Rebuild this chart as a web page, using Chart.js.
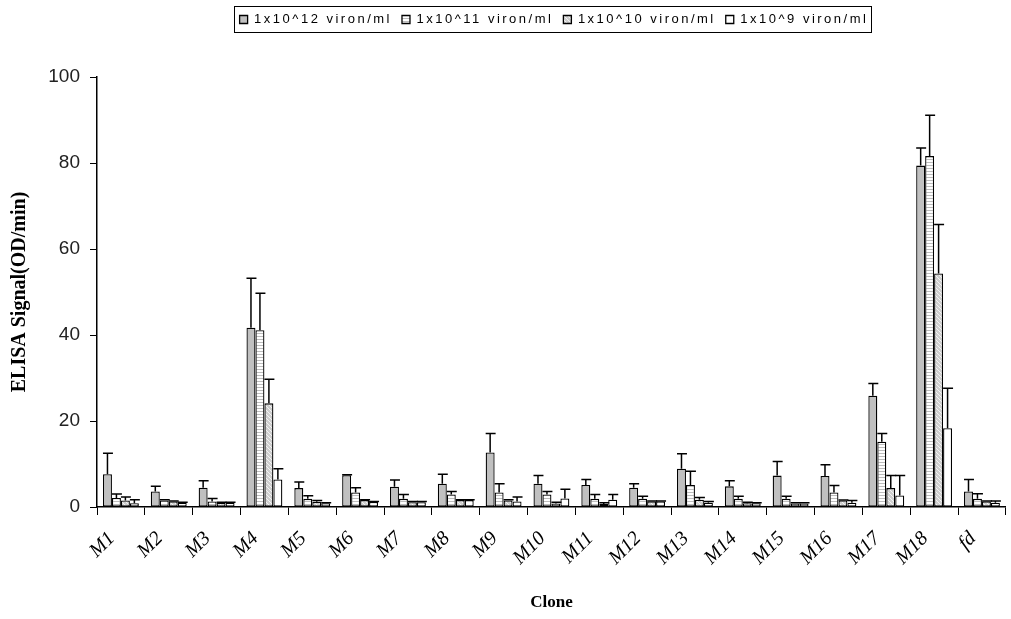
<!DOCTYPE html>
<html>
<head>
<meta charset="utf-8">
<script src="https://cdn.jsdelivr.net/npm/chart.js@4.4.1/dist/chart.umd.min.js"></script>
<style>
  html, body { margin: 0; padding: 0; background: #fff; }
  #wrap { width: 1011px; height: 619px; position: relative; }
</style>
</head>
<body>
<div id="wrap"><canvas id="c"></canvas></div>
<script>
const categories = ['M1','M2','M3','M4','M5','M6','M7','M8','M9','M10','M11','M12','M13','M14','M15','M16','M17','M18','fd'];
const seriesNames = ['1x10^12 viron/ml','1x10^11 viron/ml','1x10^10 viron/ml','1x10^9 viron/ml'];

const v12 = [7.6, 3.6, 4.5, 41.7, 4.4, 7.4, 4.7, 5.4, 12.7, 5.4, 5.1, 4.5, 8.9, 4.8, 7.3, 7.2, 25.9, 79.4, 3.6];
const e12 = [4.9, 1.2, 1.6, 11.5, 1.4, 0.1, 1.6, 2.2, 4.4, 1.9, 1.3, 0.9, 3.5, 1.3, 3.3, 2.6, 2.8, 4.1, 2.8];

const v11 = [2.1, 1.5, 1.3, 41.1, 1.9, 3.4, 1.9, 2.9, 3.4, 2.9, 1.9, 1.9, 5.1, 1.9, 1.9, 3.4, 15.2, 81.6, 1.9];
const e11 = [0.9, 0.2, 0.7, 8.6, 0.7, 1.1, 1.0, 0.7, 2.0, 0.7, 1.0, 0.6, 3.2, 0.6, 0.6, 1.6, 1.9, 9.5, 1.2];

const v10 = [1.5, 1.3, 1.0, 24.1, 1.2, 1.6, 1.1, 1.6, 1.5, 0.8, 0.7, 1.3, 1.7, 0.9, 0.8, 1.5, 4.4, 54.3, 1.3];
const e10 = [0.8, 0.1, 0.1, 5.6, 0.3, 0.1, 0.2, 0.1, 0.2, 0.3, 0.3, 0.1, 0.5, 0.2, 0.2, 0.1, 2.9, 11.4, 0.1];

const v9 = [0.9, 1.0, 1.0, 6.4, 0.9, 1.2, 1.1, 1.6, 1.3, 2.0, 1.7, 1.3, 1.0, 0.9, 0.8, 1.0, 2.7, 18.3, 1.0];
const e9 = [0.8, 0.1, 0.1, 2.5, 0.1, 0.1, 0.2, 0.1, 1.0, 2.1, 1.2, 0.1, 0.3, 0.1, 0.2, 0.5, 4.6, 9.3, 0.4];

const yTicks = [0, 20, 40, 60, 80, 100];

function makePattern(draw, w, h) {
  const c = document.createElement('canvas');
  c.width = w; c.height = h;
  const x = c.getContext('2d');
  draw(x, w, h);
  return x.createPattern(c, 'repeat');
}
const stripePattern = makePattern((x, w, h) => {
  x.fillStyle = '#ffffff'; x.fillRect(0, 0, w, h);
  x.fillStyle = '#bcbcbc'; x.fillRect(0, 0, w, 1);
}, 4, 3);
const hatchPattern = makePattern((x, w, h) => {
  x.fillStyle = '#cfcfcf'; x.fillRect(0, 0, w, h);
  x.strokeStyle = '#f4f4f4'; x.lineWidth = 1;
  x.beginPath();
  x.moveTo(0, 0); x.lineTo(w, h);
  x.moveTo(-w, 0); x.lineTo(w, 2 * h);
  x.moveTo(0, -h); x.lineTo(2 * w, h);
  x.stroke();
}, 4, 4);

const fills = ['#c0c0c0', stripePattern, hatchPattern, '#ffffff'];
const values = [v12, v11, v10, v9];
const errors = [e12, e11, e10, e9];

const LEGEND_SPACING = '2.5px';
const LEGEND_GAP = 41;
const LEGEND_SHIFT = 50;

const errorBars = {
  id: 'errorBars',
  afterDatasetsDraw(chart) {
    const ctx = chart.ctx;
    const y = chart.scales.y;
    ctx.save();
    ctx.strokeStyle = '#000';
    ctx.lineWidth = 1.5;
    chart.data.datasets.forEach((ds, di) => {
      const meta = chart.getDatasetMeta(di);
      meta.data.forEach((bar, i) => {
        const top = y.getPixelForValue(ds.data[i] + errors[di][i]);
        const half = bar.width / 2;
        ctx.beginPath();
        ctx.moveTo(bar.x, bar.y);
        ctx.lineTo(bar.x, top);
        ctx.moveTo(bar.x - half, top);
        ctx.lineTo(bar.x + half + 1, top);
        ctx.stroke();
      });
    });
    ctx.restore();
  }
};

const legendTweak = {
  id: 'legendTweak',
  afterInit(chart) {
    const lg = chart.legend;
    if (!lg) return;
    const fit = lg.fit;
    lg.fit = function () {
      const c = this.ctx;
      c.save();
      try { c.letterSpacing = LEGEND_SPACING; } catch (e) {}
      fit.call(this);
      c.restore();
      if (this.options.display) this.height += LEGEND_GAP;
    };
    const draw = lg.draw;
    lg.draw = function (area) {
      const c = this.ctx;
      c.save();
      try { c.letterSpacing = LEGEND_SPACING; } catch (e) {}
      draw.call(this, area);
      c.restore();
    };
  },
  afterLayout(chart) {
    const lg = chart.legend;
    if (!lg) return;
    lg.left += LEGEND_SHIFT;
    lg.right += LEGEND_SHIFT;
  },
  afterDraw(chart) {
    const boxes = chart.legend && chart.legend.legendHitBoxes;
    if (!boxes || !boxes.length) return;
    let l = Infinity, r = -Infinity, t = Infinity, b = -Infinity;
    boxes.forEach(h => { l = Math.min(l, h.left); r = Math.max(r, h.left + h.width); t = Math.min(t, h.top); b = Math.max(b, h.top + h.height); });
    const ctx = chart.ctx;
    ctx.save();
    ctx.strokeStyle = '#000';
    ctx.lineWidth = 1;
    ctx.strokeRect(Math.round(l - 6) + 0.5, Math.round(t - 7) + 0.5, Math.round(r - l + 8), Math.round(b - t + 13));
    ctx.restore();
  }
};

new Chart(document.getElementById('c'), {
  type: 'bar',
  data: {
    labels: categories,
    datasets: seriesNames.map((n, i) => ({
      label: n,
      data: values[i],
      backgroundColor: fills[i],
      borderColor: '#000',
      borderWidth: 1.3,
      borderSkipped: false,
      categoryPercentage: 0.75,
      barPercentage: 1.0
    }))
  },
  options: {
    responsive: true,
    maintainAspectRatio: false,
    animation: false,
    layout: { padding: { left: 0, right: 3, top: 3, bottom: 0 } },
    plugins: {
      legend: {
        position: 'top',
        labels: {
          color: '#000',
          font: { family: 'Liberation Sans', size: 13 },
          boxWidth: 8,
          boxHeight: 8,
          padding: 10
        }
      },
      tooltip: { enabled: false }
    },
    scales: {
      x: {
        afterFit(scale) { scale.height = 112; },
        grid: { display: true, drawOnChartArea: false, drawTicks: true, tickLength: 8, color: '#000', offset: true },
        border: { display: true, color: '#000', width: 1.5 },
        ticks: {
          color: '#000',
          font: { family: 'Liberation Serif', size: 20, style: 'italic' },
          minRotation: 45, maxRotation: 45,
          autoSkip: false,
          labelOffset: -9,
          padding: 12
        },
        title: {
          display: true, text: 'Clone', color: '#000',
          font: { family: 'Liberation Serif', size: 17, weight: 'bold' },
          padding: { top: 0, bottom: 6 }
        }
      },
      y: {
        min: 0, max: 100,
        afterFit(scale) { scale.width = 97; },
        afterBuildTicks(scale) { scale.ticks = yTicks.map(v => ({ value: v })); },
        grid: { display: true, drawOnChartArea: false, drawTicks: true, tickLength: 7, color: '#000' },
        border: { display: true, color: '#000', width: 1.5 },
        ticks: {
          color: '#222',
          font: { family: 'Liberation Sans', size: 19 },
          padding: 10
        },
        title: {
          display: true, text: 'ELISA Signal(OD/min)', color: '#000',
          font: { family: 'Liberation Serif', size: 20, weight: 'bold' },
          padding: { top: 8, bottom: 0 }
        }
      }
    }
  },
  plugins: [errorBars, legendTweak]
});
</script>
</body>
</html>
